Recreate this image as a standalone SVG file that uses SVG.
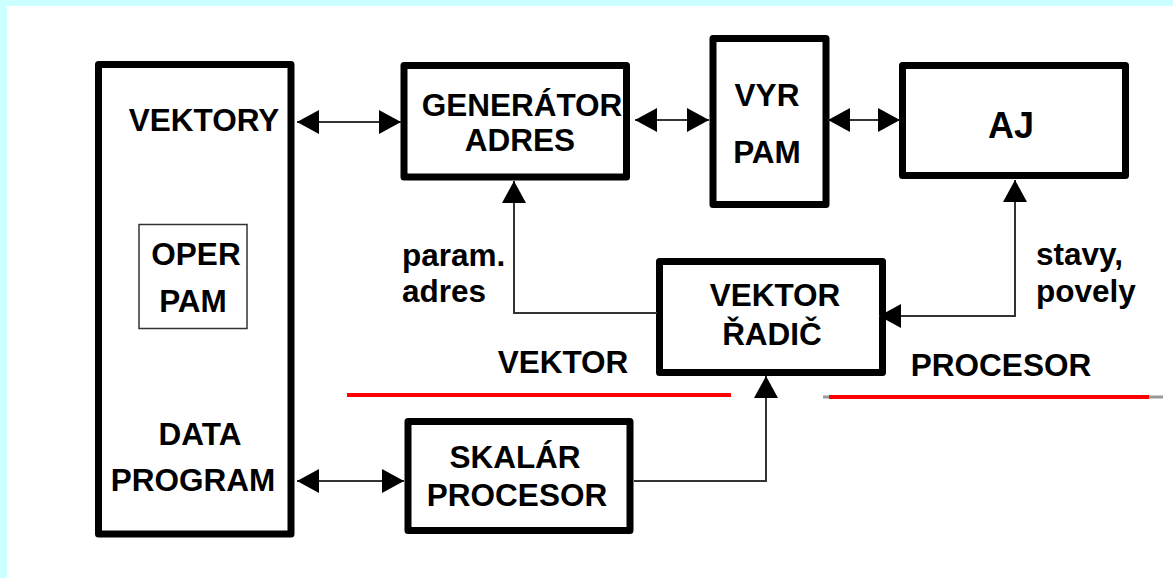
<svg xmlns="http://www.w3.org/2000/svg" width="1173" height="578" viewBox="0 0 1173 578">
<style>
.box{fill:none;stroke:#000;stroke-width:7;stroke-linejoin:round}
.thin{fill:none;stroke:#333;stroke-width:1.5}
.t{font-family:"Liberation Sans",Arial,sans-serif;font-weight:bold;font-size:31.5px;fill:#000;text-anchor:middle}
.l{text-anchor:start}
.con{fill:none;stroke:#333;stroke-width:2}
.red{stroke:#ff0000;stroke-width:4}
</style>
<defs>
<marker id="ah" markerUnits="userSpaceOnUse" markerWidth="24" markerHeight="26" refX="22" refY="12" orient="auto-start-reverse" viewBox="0 0 24 24">
<path d="M0,0 L22,12 L0,24 Z" fill="#000"/>
</marker>
</defs>
<rect x="0" y="0" width="1173" height="578" fill="#ccffff"/>
<rect x="7" y="6" width="1166" height="572" fill="#fff"/>

<g id="memory">
<rect class="box" x="98.5" y="64.5" width="192.5" height="469.5"/>
<text class="t" x="204" y="131">VEKTORY</text>
<text class="t" x="200" y="445">DATA</text>
<text class="t" x="193" y="491">PROGRAM</text>
</g>
<g id="oper-pam">
<rect class="thin" x="139" y="224.5" width="108" height="104"/>
<text class="t" x="196" y="265">OPER</text>
<text class="t" x="193" y="312">PAM</text>
</g>
<g id="generator">
<rect class="box" x="404" y="65.5" width="222.5" height="111.5"/>
<text class="t" x="522" y="116">GENERÁTOR</text>
<text class="t" x="520" y="151">ADRES</text>
</g>
<g id="vyr-pam">
<rect class="box" x="713" y="38.5" width="113" height="166"/>
<text class="t" x="767" y="106">VYR</text>
<text class="t" x="767" y="163">PAM</text>
</g>
<g id="aj">
<rect class="box" x="902.5" y="65.5" width="223" height="110"/>
<text class="t" x="1011" y="138" style="font-size:36px">AJ</text>
</g>
<g id="radic">
<rect class="box" x="659.5" y="261.5" width="223" height="111"/>
<text class="t" x="775" y="306">VEKTOR</text>
<text class="t" x="772" y="345">ŘADIČ</text>
</g>
<g id="skalar">
<rect class="box" x="408" y="421.5" width="222" height="109"/>
<text class="t" x="515" y="468">SKALÁR</text>
<text class="t" x="517" y="506">PROCESOR</text>
</g>

<g id="labels">
<text class="t l" x="402" y="266">param.</text>
<text class="t l" x="402" y="302">adres</text>
<text class="t l" x="1036" y="265">stavy,</text>
<text class="t l" x="1036" y="302">povely</text>
<text class="t" x="563" y="373">VEKTOR</text>
<text class="t" x="1001" y="376">PROCESOR</text>
<line class="red" x1="347" y1="395" x2="731" y2="395"/>
<line x1="823" y1="397" x2="1163" y2="397" stroke="#999" stroke-width="3"/>
<line class="red" x1="829" y1="397" x2="1149" y2="397"/>
</g>

<g id="connectors">
<line class="con" x1="297" y1="122" x2="401" y2="122" marker-start="url(#ah)" marker-end="url(#ah)"/>
<line class="con" x1="635" y1="120" x2="709" y2="120" marker-start="url(#ah)" marker-end="url(#ah)"/>
<line class="con" x1="828" y1="120" x2="900" y2="120" marker-start="url(#ah)" marker-end="url(#ah)"/>
<path class="con" d="M657,313 H514 V181" marker-end="url(#ah)"/>
<path class="con" d="M879,316 H1015 V180" marker-start="url(#ah)" marker-end="url(#ah)"/>
<path class="con" d="M634,481 H766 V376" marker-end="url(#ah)"/>
<line class="con" x1="297" y1="481" x2="404" y2="481" marker-start="url(#ah)" marker-end="url(#ah)"/>
</g>
</svg>
